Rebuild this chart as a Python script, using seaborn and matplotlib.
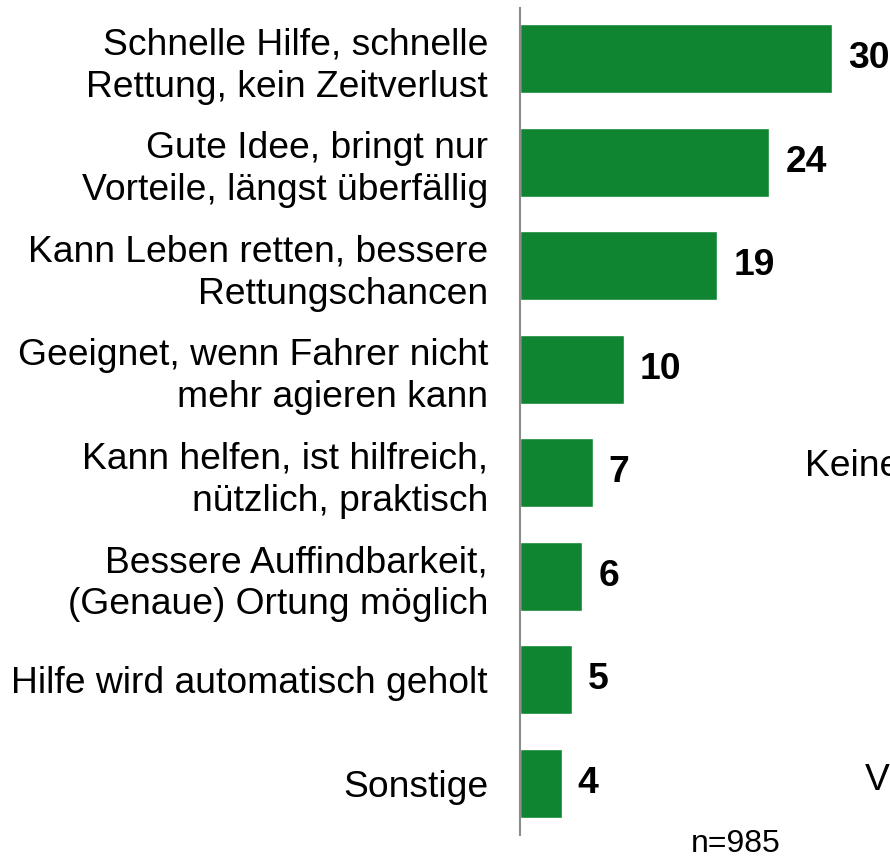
import matplotlib
matplotlib.use("Agg")
import matplotlib.pyplot as plt
import seaborn as sns
import pandas as pd

# answers and share in percent
labels = [
    "Schnelle Hilfe, schnelle\nRettung, kein Zeitverlust",
    "Gute Idee, bringt nur\nVorteile, längst überfällig",
    "Kann Leben retten, bessere\nRettungschancen",
    "Geeignet, wenn Fahrer nicht\nmehr agieren kann",
    "Kann helfen, ist hilfreich,\nnützlich, praktisch",
    "Bessere Auffindbarkeit,\n(Genaue) Ortung möglich",
    "Hilfe wird automatisch geholt",
    "Sonstige",
]
values = [30, 24, 19, 10, 7, 6, 5, 4]

df = pd.DataFrame({"label": labels, "value": values})

sns.set_style("white")
plt.rcParams["font.family"] = ["Liberation Sans", "DejaVu Sans"]
plt.rcParams["text.color"] = "black"
plt.rcParams["ytick.color"] = "black"

fig = plt.figure(figsize=(8.9, 8.59), dpi=100)
ax = fig.add_axes([0.5843, 0.0279, 0.4157, 0.9628])

sns.barplot(data=df, x="value", y="label", color="#108531", saturation=1,
            width=0.67, ax=ax)

ax.set_xlim(0, 35.6)
ax.set_ylim(7.5, -0.49)
ax.set_xlabel("")
ax.set_ylabel("")
ax.set_xticks([])
ax.tick_params(axis="y", length=0, pad=23, labelsize=26.8, labelcolor="black")
for t in ax.get_yticklabels():
    t.set_multialignment("right")
    t.set_linespacing(1.26)

for s in ["top", "right", "bottom"]:
    ax.spines[s].set_visible(False)
ax.spines["left"].set_color("#8c8c8c")
ax.spines["left"].set_linewidth(1.5)

for i, v in enumerate(values):
    ax.annotate(str(v), xy=(v, i), xytext=(11.5, 0), textcoords="offset points",
                ha="left", va="center", fontsize=26.8, fontweight="bold")

fig.text(736 / 890, 1 - 844 / 859, "n=985", ha="center", va="center", fontsize=23)
# partly visible texts at the right edge, as in the source
fig.text(805 / 890, 1 - 466 / 859, "Keine", ha="left", va="center", fontsize=26.8)
fig.text(865 / 890, 1 - 780 / 859, "V", ha="left", va="center", fontsize=26.8)

fig.savefig("out.png", dpi=100)
